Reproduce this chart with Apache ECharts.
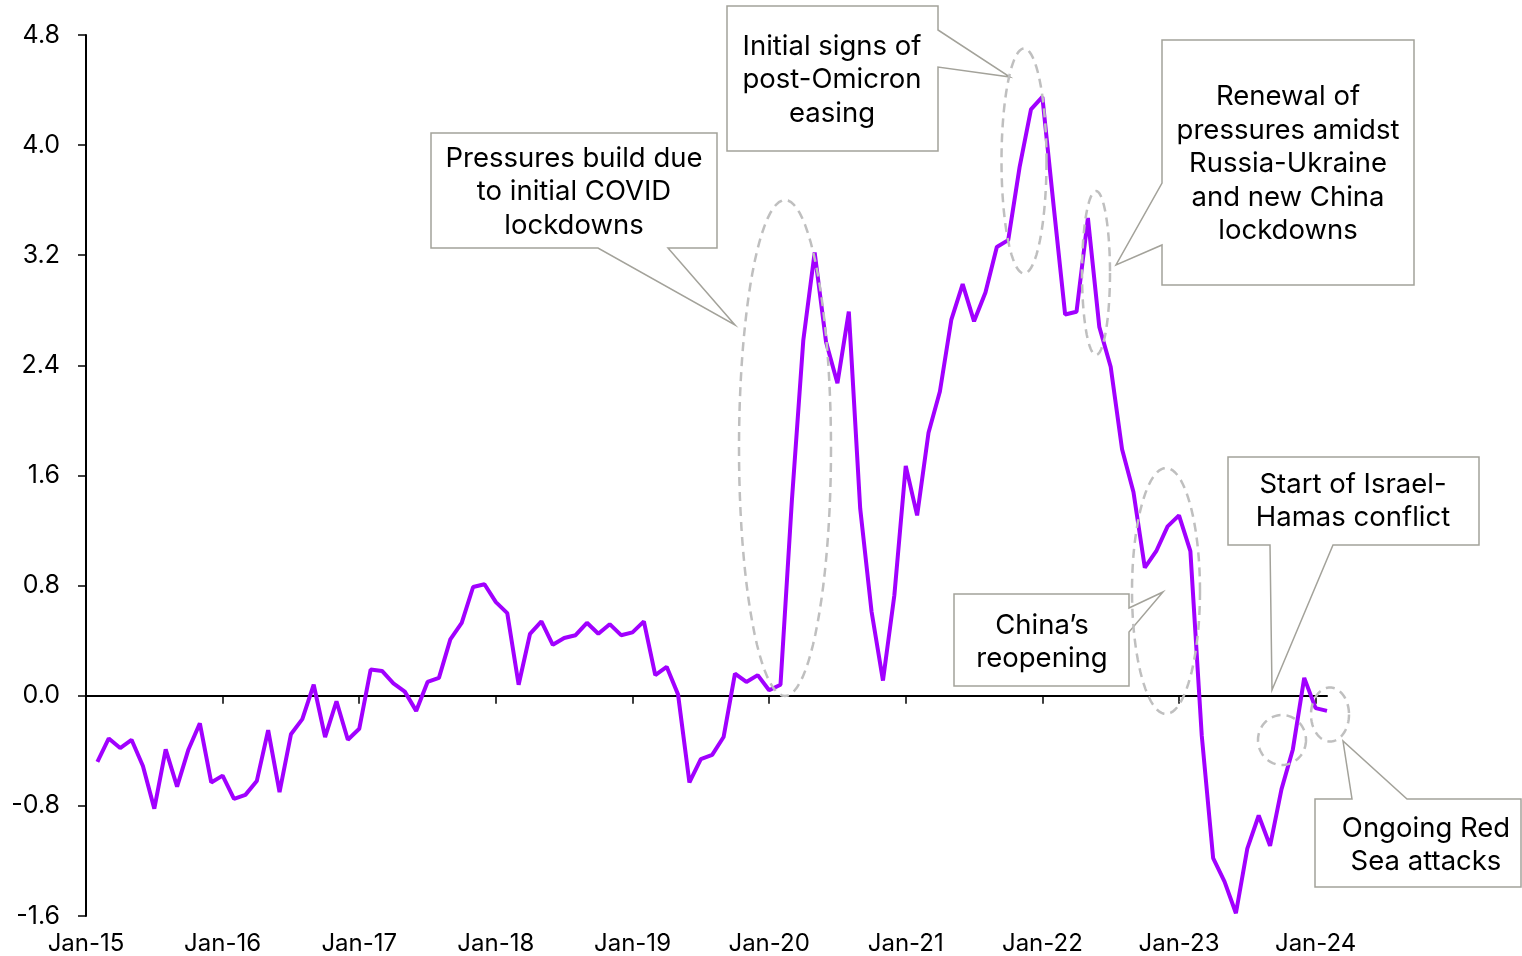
<!DOCTYPE html>
<html>
<head>
<meta charset="utf-8">
<script src="https://cdn.jsdelivr.net/npm/echarts@6/dist/echarts.min.js"></script>
<style>
html,body{margin:0;padding:0;background:#fff;}
#chart{width:1522px;height:956px;}
</style>
</head>
<body>
<div id="chart"></div>
<script>
// Tick labels on the x axis (one per January)
const tickLabels = ['Jan-15','Jan-16','Jan-17','Jan-18','Jan-19','Jan-20','Jan-21','Jan-22','Jan-23','Jan-24'];

// Monthly index values, Jan-15 .. Jan-24 (one array per year)
const y2015 = [-0.48,-0.31,-0.38,-0.32,-0.51,-0.82,-0.39,-0.66,-0.39,-0.20,-0.63,-0.58];
const y2016 = [-0.75,-0.72,-0.62,-0.25,-0.70,-0.28,-0.17,0.08,-0.30,-0.04,-0.32,-0.24];
const y2017 = [0.19,0.18,0.09,0.03,-0.11,0.10,0.13,0.41,0.53,0.79,0.81,0.68];
const y2018 = [0.60,0.08,0.45,0.54,0.37,0.42,0.44,0.53,0.45,0.52,0.44,0.46];
const y2019 = [0.54,0.15,0.21,0.01,-0.63,-0.46,-0.43,-0.30,0.16,0.10,0.15,0.04];
const y2020 = [0.08,1.42,2.58,3.22,2.57,2.27,2.79,1.36,0.61,0.11,0.73,1.67];
const y2021 = [1.31,1.91,2.21,2.73,2.99,2.72,2.93,3.26,3.31,3.84,4.26,4.35];
const y2022 = [3.55,2.77,2.79,3.47,2.68,2.39,1.79,1.48,0.93,1.05,1.23,1.31];
const y2023 = [1.05,-0.29,-1.18,-1.35,-1.58,-1.11,-0.87,-1.09,-0.68,-0.39,0.13,-0.09];
const y2024 = [-0.11];

const values = [].concat(y2015,y2016,y2017,y2018,y2019,y2020,y2021,y2022,y2023,y2024);
// each monthly observation is dated at the end of its month (month index + 1)
const seriesData = values.map((v, i) => [i + 1, v]);
const xMax = values.length;

const FONT = 'Inter';
const GREY = '#a3a29a';
const DASH = '#bfbfbf';

function ellipse(cx, cy, rx, ry) {
  const pts = [];
  for (let k = 0; k < 96; k++) {
    const t = k / 96 * Math.PI * 2;
    pts.push([cx + rx * Math.cos(t), cy + ry * Math.sin(t)]);
  }
  return {
    type: 'polygon', z: 100,
    shape: { points: pts },
    style: { fill: null, stroke: DASH, lineWidth: 2.5, lineDash: [9, 6] }
  };
}
function callout(points) {
  return {
    type: 'polygon', z: 90,
    shape: { points: points },
    style: { fill: '#fff', stroke: GREY, lineWidth: 1.5 }
  };
}
function label(x, y, text) {
  return {
    type: 'text', z: 95, x: x, y: y,
    style: {
      text: text, fill: '#000', font: '27.5px ' + FONT,
      textAlign: 'center', textVerticalAlign: 'middle', lineHeight: 33.5
    }
  };
}

const chart = echarts.init(document.getElementById('chart'), null, { renderer: 'canvas' });
const jans = tickLabels.map((_, i) => i * 12);

chart.setOption({
  animation: false,
  backgroundColor: '#fff',
  grid: { left: 86, right: 195, top: 35, bottom: 39, containLabel: false },
  xAxis: [
    {
      type: 'value', min: 0, max: xMax, position: 'bottom',
      axisLine: { show: true, onZero: true, lineStyle: { color: '#000', width: 2 } },
      axisTick: { show: true, customValues: jans.slice(1), length: 8, lineStyle: { color: '#000', width: 1.5 } },
      axisLabel: { show: false },
      splitLine: { show: false }
    },
    {
      type: 'value', min: 0, max: xMax, position: 'bottom',
      axisLine: { show: false, onZero: false },
      axisTick: { show: false },
      axisLabel: {
        show: true, customValues: jans, margin: 16,
        formatter: v => tickLabels[Math.round(v / 12)] || '',
        fontFamily: FONT, fontSize: 24, color: '#000'
      },
      splitLine: { show: false }
    }
  ],
  yAxis: {
    type: 'value', min: -1.6, max: 4.8, interval: 0.8,
    axisLine: { show: true, onZero: false, lineStyle: { color: '#000', width: 2 } },
    axisTick: { show: true, length: 8, lineStyle: { color: '#000', width: 1.5 } },
    axisLabel: {
      margin: 26, fontFamily: FONT, fontSize: 25, color: '#000',
      formatter: v => (Math.abs(v) < 1e-9 ? 0 : v).toFixed(1)
    },
    splitLine: { show: false }
  },
  series: [{
    type: 'line', data: seriesData, xAxisIndex: 0, yAxisIndex: 0,
    symbol: 'none', smooth: false,
    lineStyle: { color: '#a100ff', width: 4 }, z: 3
  }],
  graphic: { elements: [
    callout([[431,133],[717,133],[717,248],[668,248],[735,325],[598,248],[431,248]]),
    label(574, 192, 'Pressures build due\nto initial COVID\nlockdowns'),
    callout([[727,6],[938,6],[938,30],[1010,77],[938,67],[938,151],[727,151]]),
    label(832, 80, 'Initial signs of\npost-Omicron\neasing'),
    callout([[1162,40],[1414,40],[1414,285],[1162,285],[1162,245],[1116,265],[1162,183]]),
    label(1288, 164, 'Renewal of\npressures amidst\nRussia-Ukraine\nand new China\nlockdowns'),
    callout([[954,594],[1129,594],[1129,608],[1163,592],[1129,632],[1129,686],[954,686]]),
    label(1042, 642, 'China\u2019s\nreopening'),
    callout([[1228,457],[1479,457],[1479,545],[1333,545],[1272,690],[1270,545],[1228,545]]),
    label(1353, 501, 'Start of Israel-\nHamas conflict'),
    callout([[1315,799],[1352,799],[1343,741],[1407,799],[1521,799],[1521,887],[1315,887]]),
    label(1426, 845, 'Ongoing Red\nSea attacks'),
    ellipse(785, 448, 46, 248),
    ellipse(1024, 161, 22.5, 112.5),
    ellipse(1096, 273, 14, 82),
    ellipse(1166, 591, 34, 123),
    ellipse(1282, 740, 24, 25),
    ellipse(1330, 714.5, 19, 27)
  ]}
});
</script>
</body>
</html>
